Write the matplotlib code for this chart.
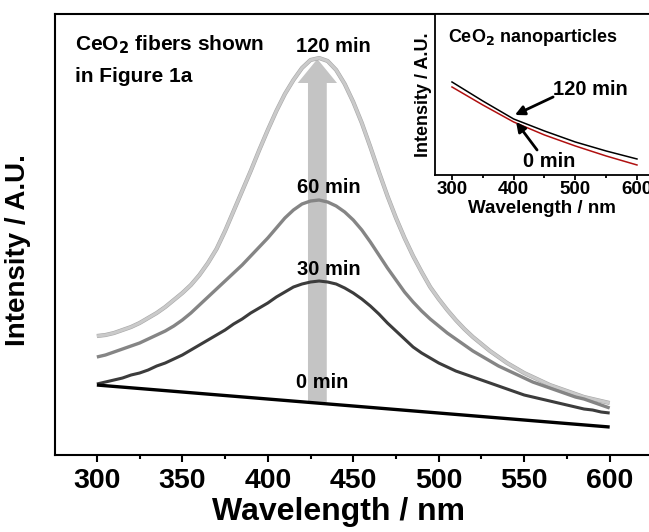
import matplotlib
matplotlib.use("Agg")
import matplotlib.pyplot as plt
import matplotlib.patheffects as pe
from matplotlib.patches import FancyArrow
from matplotlib.ticker import MultipleLocator

plt.rcParams['font.family'] = ['Liberation Sans', 'DejaVu Sans']
plt.rcParams['font.weight'] = 'bold'

# PL spectra of the CeO2 fibers at different irradiation times (5 nm steps)
wl = list(range(300, 605, 5))
int_120 = [119, 120, 122, 125, 128, 132, 137, 142, 148, 155, 162, 170, 180, 192,
           206, 224, 244, 264, 284, 305, 325, 344, 361, 375, 387, 395, 397, 394,
           385, 371, 353, 332, 308, 283, 259, 237, 217, 199, 183, 168, 156, 145,
           135, 126, 118, 111, 104, 98, 92, 87, 82, 78, 74, 70, 67, 64, 61, 58,
           56, 54, 52]
int_60 = [98, 100, 103, 106, 109, 112, 116, 120, 124, 129, 135, 142, 150, 158,
          166, 174, 182, 190, 199, 208, 217, 227, 237, 245, 251, 254, 255, 253,
          249, 243, 235, 225, 213, 200, 187, 175, 163, 153, 144, 136, 129, 122,
          116, 110, 104, 99, 94, 89, 85, 81, 77, 73, 70, 67, 64, 61, 58, 56,
          53, 50, 47]
int_30 = [71, 73, 75, 77, 80, 82, 85, 89, 92, 96, 100, 105, 110, 115,
          120, 125, 131, 136, 142, 147, 152, 158, 163, 168, 171, 173, 174, 173,
          171, 167, 162, 156, 149, 141, 132, 124, 116, 108, 102, 97, 92, 88,
          84, 81, 78, 75, 72, 69, 66, 63, 60, 58, 56, 54, 52, 50, 48, 46,
          45, 43, 42]
wl_0 = [300, 350, 400, 450, 500, 550, 600]
int_0 = [70, 63, 56, 49, 42, 35, 28]

# inset: CeO2 nanoparticles
wl_np = [300, 350, 400, 450, 500, 550, 600]
np_120 = [93, 74, 56, 44, 33, 24, 16]
np_0 = [88, 70, 53, 40, 29, 19, 10]

peak_wl = 429
peak_120 = 397

fig = plt.figure(figsize=(6.49, 5.32), dpi=100)
ax = fig.add_axes([0.0847, 0.1447, 0.9153, 0.829])

# rising arrow behind the spectra
ax.add_patch(FancyArrow(peak_wl, int_0[2] - 3, 0, peak_120 - int_0[2] + 2,
                        width=11, head_width=23, head_length=24,
                        length_includes_head=True, color='#c4c4c4', lw=0, zorder=1))

line_kw = dict(zorder=2, solid_joinstyle='round', solid_capstyle='butt')
ax.plot(wl, int_120, color='#cacaca', lw=2.2,
        path_effects=[pe.Stroke(linewidth=3.0, foreground='#a8a8a8'), pe.Normal()],
        **line_kw)
ax.plot(wl, int_60, color='#858585', lw=2.4, **line_kw)
ax.plot(wl, int_30, color='#3c3c3c', lw=2.2, **line_kw)
ax.plot(wl_0, int_0, color='black', lw=2.4, **line_kw)

lab = dict(fontsize=14.5, fontweight='bold', ha='center', va='center', zorder=3)
ax.text(438.5, 408, '120 min', **lab)
ax.text(435.5, 268, '60 min', **lab)
ax.text(435.5, 186, '30 min', **lab)
ax.text(432, 73, '0 min', **lab)
ax.text(287.5, 410, 'CeO$_2$ fibers shown', fontsize=15, fontweight='bold',
        ha='left', va='center')
ax.text(287.5, 378, 'in Figure 1a', fontsize=15, fontweight='bold',
        ha='left', va='center')

ax.set_xlim(275.5, 623)
ax.set_ylim(0, 441)
ax.xaxis.set_major_locator(MultipleLocator(50))
ax.xaxis.set_minor_locator(MultipleLocator(25))
ax.set_yticks([])
ax.spines['right'].set_visible(False)
for s in ['left', 'bottom', 'top']:
    ax.spines[s].set_linewidth(1.5)
ax.tick_params(axis='x', which='major', direction='out', length=5, width=1.5,
               labelsize=20.5, pad=4)
ax.tick_params(axis='x', which='minor', direction='out', length=3, width=1.5)
for t in ax.get_xticklabels():
    t.set_fontweight('bold')
fig.text(338 / 649, 1 - 512 / 532, 'Wavelength / nm', fontsize=23,
         fontweight='bold', ha='center', va='center')
fig.text(18 / 649, 1 - 250 / 532, 'Intensity / A.U.', fontsize=20,
         fontweight='bold', ha='center', va='center', rotation=90)

# inset
ins = fig.add_axes([0.6703, 0.6711, 0.3297, 0.3026])
ins.plot(wl_np, np_120, color='black', lw=1.1)
ins.plot(wl_np, np_0, color='#b01010', lw=1.1)
ins.set_xlim(272.5, 619.5)
ins.set_ylim(0, 161)
ins.xaxis.set_major_locator(MultipleLocator(100))
ins.xaxis.set_minor_locator(MultipleLocator(50))
ins.set_yticks([])
ins.spines['right'].set_visible(False)
for s in ['left', 'bottom', 'top']:
    ins.spines[s].set_linewidth(1.3)
ins.tick_params(axis='x', which='major', direction='out', length=3.5, width=1.3,
                labelsize=13.5, pad=1)
ins.tick_params(axis='x', which='minor', direction='out', length=2, width=1.3)
for t in ins.get_xticklabels():
    t.set_fontweight('bold')
ins.set_xlabel('Wavelength / nm', fontsize=13.5, fontweight='bold', labelpad=1.5)
ins.set_ylabel('Intensity / A.U.', fontsize=13, fontweight='bold', labelpad=2)
ins.text(293.5, 137, 'CeO$_2$ nanoparticles', fontsize=13, fontweight='bold',
         ha='left', va='center')
arr = dict(arrowstyle='-|>', color='black', lw=2, mutation_scale=14,
           shrinkA=0, shrinkB=0)
ins.annotate('', xy=(402, 60), xytext=(464, 78), arrowprops=arr)
ins.annotate('', xy=(404, 53), xytext=(438, 25), arrowprops=arr)
ins.text(525, 85, '120 min', fontsize=14.5, fontweight='bold',
         ha='center', va='center')
ins.text(457, 13, '0 min', fontsize=14.5, fontweight='bold',
         ha='center', va='center')

fig.savefig('out.png', dpi=100)
